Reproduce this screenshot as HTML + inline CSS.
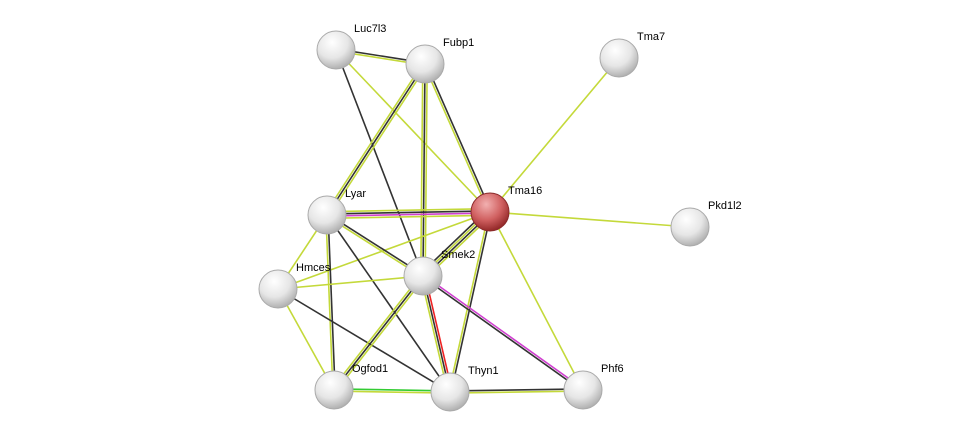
<!DOCTYPE html>
<html><head><meta charset="utf-8"><style>
html,body{margin:0;padding:0;background:#fff;width:976px;height:436px;overflow:hidden}
svg text{font-family:"Liberation Sans",Arial,sans-serif;font-size:11px;fill:#000}
</style></head><body>
<svg id="s" width="976" height="436" viewBox="0 0 976 436" xmlns="http://www.w3.org/2000/svg">
<defs>
<radialGradient id="g" cx="0.4" cy="0.3" r="0.75">
<stop offset="0" stop-color="#ffffff"/><stop offset="0.55" stop-color="#e6e6e6"/><stop offset="1" stop-color="#a8a8a8"/>
</radialGradient>
<radialGradient id="r" cx="0.4" cy="0.3" r="0.75">
<stop offset="0" stop-color="#f2b0b0"/><stop offset="0.55" stop-color="#d06060"/><stop offset="1" stop-color="#8a2020"/>
</radialGradient>
</defs>
<g id="e"></g><g id="n"></g>
</svg>
<script>
var N={Luc7l3:[336,50],Fubp1:[425,64],Tma7:[619,58],Tma16:[490,212],Pkd1l2:[690,227],Lyar:[327,215],Hmces:[278,289],Smek2:[423,276],Ogfod1:[334,390],Thyn1:[450,392],Phf6:[583,390]};
var Y="#c4d93a",D="#333",M="#d040d0",R="#ee2222",G="#33cc33";
var E=[["Luc7l3","Fubp1",[D,Y]],["Luc7l3","Tma16",[Y]],["Luc7l3","Smek2",[D]],["Fubp1","Tma16",[D,Y]],["Fubp1","Smek2",[Y,D,Y]],["Fubp1","Lyar",[Y,D,Y]],["Tma7","Tma16",[Y]],["Tma16","Pkd1l2",[Y]],["Tma16","Lyar",[Y,M,D,Y]],["Tma16","Smek2",[Y,D,Y,D]],["Tma16","Thyn1",[D,Y]],["Tma16","Phf6",[Y]],["Tma16","Hmces",[Y]],["Lyar","Smek2",[D,Y]],["Lyar","Hmces",[Y]],["Lyar","Ogfod1",[D,Y]],["Lyar","Thyn1",[D]],["Hmces","Smek2",[Y]],["Hmces","Ogfod1",[Y]],["Hmces","Thyn1",[D]],["Smek2","Ogfod1",[Y,D,Y]],["Smek2","Thyn1",[R,D,Y]],["Smek2","Phf6",[M,D]],["Ogfod1","Thyn1",[G,Y]],["Thyn1","Phf6",[D,Y]]];
var ns="http://www.w3.org/2000/svg",eg=document.getElementById("e"),ng=document.getElementById("n");
E.forEach(function(x){var a=N[x[0]],b=N[x[1]],dx=b[0]-a[0],dy=b[1]-a[1],L=Math.hypot(dx,dy),px=-dy/L,py=dx/L,k=x[2].length;
x[2].forEach(function(c,i){var o=(i-(k-1)/2)*2.2;var l=document.createElementNS(ns,"line");
l.setAttribute("x1",a[0]+px*o);l.setAttribute("y1",a[1]+py*o);l.setAttribute("x2",b[0]+px*o);l.setAttribute("y2",b[1]+py*o);
l.setAttribute("stroke",c);l.setAttribute("stroke-width","1.6");eg.appendChild(l);});});
for(var k in N){var p=N[k];var c=document.createElementNS(ns,"circle");c.setAttribute("cx",p[0]);c.setAttribute("cy",p[1]);c.setAttribute("r",19);
c.setAttribute("fill",k=="Tma16"?"url(#r)":"url(#g)");c.setAttribute("stroke",k=="Tma16"?"#8a2a2a":"#aaa");c.setAttribute("stroke-width","1");ng.appendChild(c);
var t=document.createElementNS(ns,"text");t.setAttribute("x",p[0]+18);t.setAttribute("y",p[1]-18);t.textContent=k;ng.appendChild(t);}
</script>
</body></html>
